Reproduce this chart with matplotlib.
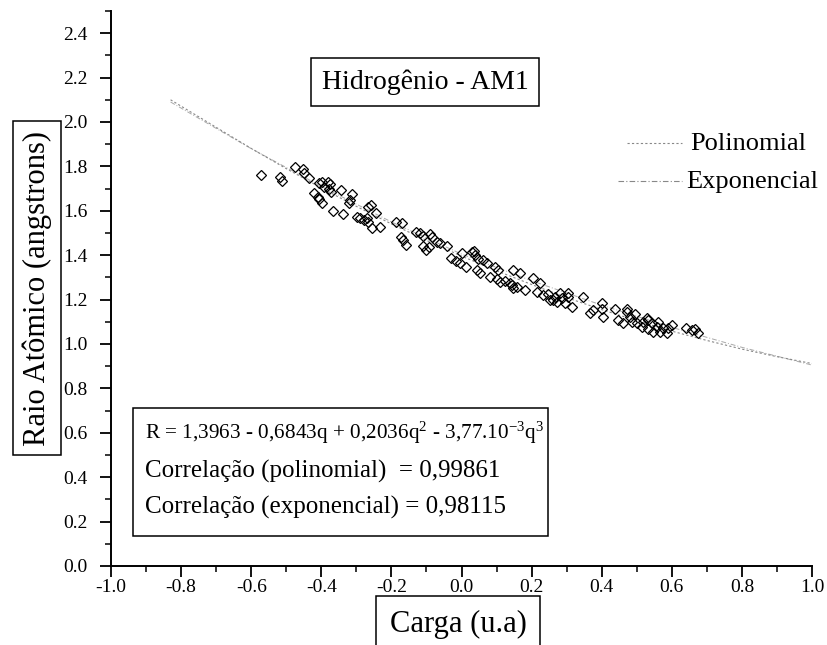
import matplotlib
matplotlib.use('Agg')
import matplotlib.pyplot as plt
from matplotlib.lines import Line2D
from matplotlib.patches import Rectangle
from matplotlib.ticker import MultipleLocator, FormatStrFormatter

plt.rcParams['font.family'] = ['Liberation Serif', 'DejaVu Serif']
plt.rcParams['mathtext.fontset'] = 'custom'
plt.rcParams['mathtext.rm'] = 'Liberation Serif'
plt.rcParams['mathtext.it'] = 'Liberation Serif:italic'

# pontos (carga, raio)
carga = [-0.572, -0.518, -0.512, -0.475, -0.452, -0.449, -0.435, -0.407, -0.398, -0.392,
         -0.381, -0.375, -0.372, -0.378, -0.421, -0.409, -0.407, -0.398, -0.367, -0.338,
         -0.344, -0.312, -0.318, -0.321, -0.298, -0.290, -0.278, -0.270, -0.267, -0.258,
         -0.244, -0.255, -0.233, -0.267, -0.187, -0.170, -0.173, -0.158, -0.167,
         -0.130, -0.118, -0.110, -0.090, -0.084, -0.110, -0.101, -0.093, -0.070, -0.061,
         -0.041, -0.030, -0.016, -0.004, 0.013, 0.001, 0.030, 0.039, 0.047, 0.061,
         0.073, 0.036, 0.044, 0.053, 0.081, 0.096, 0.104, 0.101, 0.110, 0.124,
         0.138, 0.147, 0.167, 0.147, 0.158, 0.181, 0.144, 0.204, 0.224, 0.215,
         0.233, 0.247, 0.261, 0.272, 0.281, 0.287, 0.295, 0.304, 0.315, 0.252,
         0.267, 0.304, 0.347, 0.367, 0.375, 0.401, 0.404, 0.401, 0.438, 0.446,
         0.461, 0.472, 0.481, 0.486, 0.495, 0.501, 0.472, 0.515, 0.518, 0.529,
         0.532, 0.544, 0.546, 0.558, 0.561, 0.566, 0.575, 0.586, 0.589, 0.601,
         0.532, 0.641, 0.658, 0.666, 0.675]
raio = [1.761, 1.753, 1.734, 1.797, 1.788, 1.770, 1.748, 1.725, 1.730, 1.707,
        1.730, 1.721, 1.685, 1.698, 1.680, 1.662, 1.653, 1.635, 1.599, 1.586,
        1.694, 1.676, 1.649, 1.635, 1.572, 1.568, 1.559, 1.568, 1.617, 1.626,
        1.590, 1.523, 1.527, 1.550, 1.550, 1.545, 1.482, 1.446, 1.468,
        1.505, 1.500, 1.486, 1.495, 1.482, 1.441, 1.423, 1.437, 1.459, 1.455,
        1.441, 1.387, 1.374, 1.365, 1.347, 1.410, 1.414, 1.401, 1.383, 1.378,
        1.365, 1.419, 1.333, 1.320, 1.302, 1.347, 1.333, 1.293, 1.279, 1.284,
        1.275, 1.333, 1.320, 1.252, 1.257, 1.243, 1.266, 1.297, 1.275, 1.234,
        1.221, 1.225, 1.198, 1.189, 1.230, 1.207, 1.185, 1.230, 1.167, 1.198,
        1.212, 1.212, 1.212, 1.140, 1.153, 1.185, 1.122, 1.158, 1.158, 1.108,
        1.095, 1.144, 1.122, 1.099, 1.135, 1.095, 1.158, 1.077, 1.099, 1.117,
        1.068, 1.095, 1.054, 1.077, 1.099, 1.054, 1.072, 1.050, 1.072, 1.086,
        1.108, 1.072, 1.063, 1.068, 1.050]

# curvas ajustadas
q_poli = [-0.83, -0.7, -0.6, -0.5, -0.4, -0.3, -0.2, -0.1, 0.0, 0.1,
          0.2, 0.3, 0.4, 0.5, 0.6, 0.7, 0.8, 0.9, 1.0]
r_poli = [2.10, 1.976, 1.881, 1.790, 1.703, 1.620, 1.541, 1.467, 1.396, 1.330,
          1.268, 1.209, 1.155, 1.105, 1.058, 1.016, 0.977, 0.943, 0.912]
q_exp = [-0.83, -0.6, -0.4, -0.2, 0.0, 0.2, 0.4, 0.6, 0.8, 1.0]
r_exp = [2.09, 1.88, 1.71, 1.55, 1.405, 1.285, 1.175, 1.075, 0.985, 0.905]

W, H = 828, 645
fig = plt.figure(figsize=(8.28, 6.45), dpi=100)
ax = fig.add_axes([111 / W, 1 - 566 / H, (812 - 111) / W, (566 - 11) / H])

ax.plot(q_exp, r_exp, color='#aaaaaa', lw=0.7, ls=(0, (5, 2, 1, 2)))
ax.plot(q_poli, r_poli, color='#888888', lw=0.8, ls=(0, (2, 2)))
ax.plot(carga, raio, ls='none', marker='D', ms=5.5, mfc='none', mec='black', mew=0.9)

ax.set_xlim(-1.0, 1.0)
ax.set_ylim(0.0, 2.5)
ax.xaxis.set_major_locator(MultipleLocator(0.2))
ax.xaxis.set_minor_locator(MultipleLocator(0.1))
ax.yaxis.set_minor_locator(MultipleLocator(0.1))
ax.set_yticks([0.0, 0.2, 0.4, 0.6, 0.8, 1.0, 1.2, 1.4, 1.6, 1.8, 2.0, 2.2, 2.4])
ax.yaxis.set_major_formatter(FormatStrFormatter('%.1f'))
ax.xaxis.set_major_formatter(FormatStrFormatter('%.1f'))
for s in ['top', 'right']:
    ax.spines[s].set_visible(False)
for s in ['left', 'bottom']:
    ax.spines[s].set_linewidth(1.4)
ax.tick_params(which='major', direction='out', length=8, width=1.3, labelsize=14)
ax.tick_params(axis='y', which='major', pad=9)
ax.tick_params(axis='x', which='major', pad=1)
ax.tick_params(which='minor', direction='out', length=4, width=1.1)

# rotulos dos eixos em caixas
caixa = dict(boxstyle='square,pad=0.3', fc='white', ec='black', lw=1.1)
fig.text(37 / W, 1 - 288 / H, 'Raio Atômico (angstrons)', rotation=90, fontsize=22,
         ha='center', va='center', bbox=caixa)
fig.text(458 / W, 1 - 624 / H, 'Carga (u.a)', fontsize=22, ha='center', va='center',
         bbox=dict(boxstyle='square,pad=0.45', fc='white', ec='black', lw=1.1))
fig.text(425 / W, 1 - 82 / H, 'Hidrogênio - AM1', fontsize=20, ha='center', va='center',
         bbox=dict(boxstyle='square,pad=0.4', fc='white', ec='black', lw=1.1))

# legenda
fig.add_artist(Line2D([627 / W, 682 / W], [1 - 143 / H, 1 - 143 / H], color='#888888', lw=0.8, ls=(0, (2, 2))))
fig.add_artist(Line2D([618 / W, 682 / W], [1 - 181 / H, 1 - 181 / H], color='#888888', lw=0.8, ls=(0, (5, 2, 1, 2))))
fig.text(690 / W, 1 - 144 / H, 'Polinomial', fontsize=19, ha='left', va='center')
fig.text(686 / W, 1 - 182 / H, 'Exponencial', fontsize=19, ha='left', va='center')

# caixa da equacao
fig.add_artist(Rectangle((133 / W, 1 - 536 / H), (548 - 133) / W, (536 - 408) / H,
                         transform=fig.transFigure, fc='white', ec='black', lw=1.1))
fig.text(145 / W, 1 - 433 / H, r'R = 1,3963 - 0,6843q + 0,2036q$^{2}$ - 3,77.10$^{-3}$q$^{3}$',
         fontsize=15.3, ha='left', va='center')
fig.text(145 / W, 1 - 471 / H, 'Correlação (polinomial)  = 0,99861', fontsize=18, ha='left', va='center')
fig.text(145 / W, 1 - 507 / H, 'Correlação (exponencial) = 0,98115', fontsize=18, ha='left', va='center')

fig.savefig('out.png', dpi=100)
